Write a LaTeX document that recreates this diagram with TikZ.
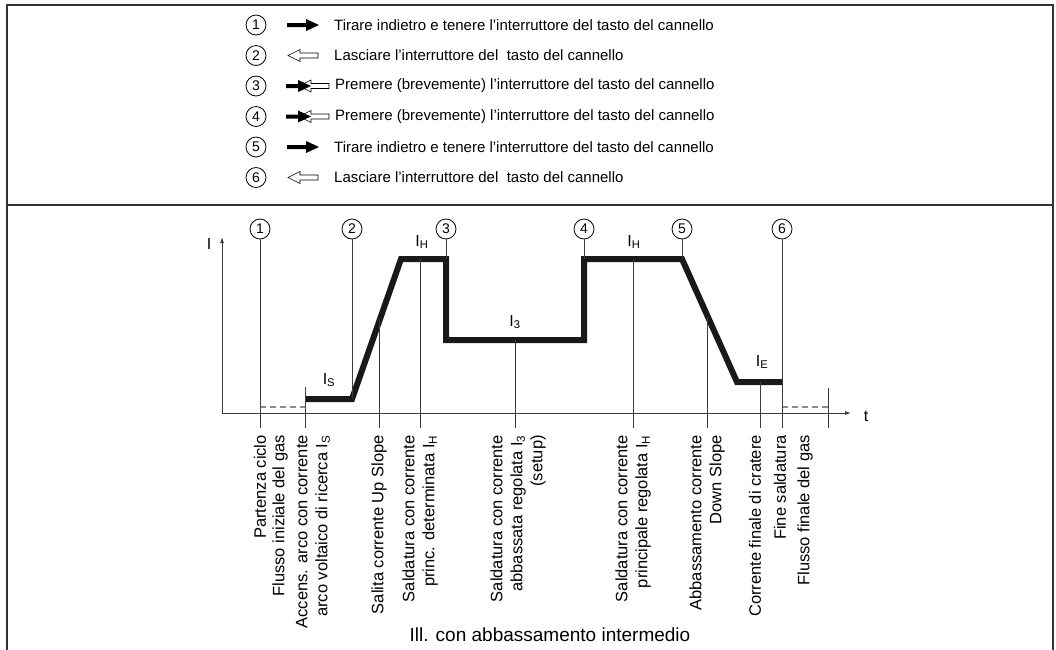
\documentclass[tikz,border=0pt]{standalone}
\usepackage{fontspec}
\setmainfont{Liberation Sans}
\usetikzlibrary{arrows.meta,calc}

\definecolor{framegray}{HTML}{333333}
\definecolor{thingray}{HTML}{3C3C3C}
\definecolor{dashgray}{HTML}{8C8C8C}

\tikzset{
    numc/.style={circle, draw, line width=0.8pt, minimum size=20pt, inner sep=0pt, font=\fontsize{14}{14}\selectfont},
    legtext/.style={anchor=west, inner sep=0pt, font=\fontsize{15}{18}\selectfont},
    lbl/.style={rotate=90, anchor=east, align=right, inner sep=0pt, font=\fontsize{16.5}{20}\selectfont},
    ilbl/.style={inner sep=0pt, font=\fontsize{16}{16}\selectfont},
    leader/.style={draw=thingray, line width=0.9pt, shorten >=7pt},
    curve/.style={line width=6pt, color=black!90},
    gasline/.style={dashgray, line width=1.6pt, dash pattern=on 6pt off 4pt},
}

% filled arrow = pull and hold
\NewDocumentCommand{\pusharrow}{m m O{19}}{
    \def\arrx{#1}
    \def\arry{#2}
    \def\arrs{#3}
    \fill[black] (\arrx,\arry-2) -- (\arrx+\arrs,\arry-2) -- (\arrx+\arrs,\arry-6) -- (\arrx+\arrs+13,\arry)
        -- (\arrx+\arrs,\arry+6) -- (\arrx+\arrs,\arry+2) -- (\arrx,\arry+2) -- cycle;
}

% hollow arrow = release
\NewDocumentCommand{\releasearrow}{m m}{
    \def\arrx{#1}
    \def\arry{#2}
    \filldraw[fill=white, draw=black, line width=0.6pt] (\arrx,\arry) -- (\arrx+12,\arry-6) -- (\arrx+12,\arry-2.5)
        -- (\arrx+30,\arry-2.5) -- (\arrx+30,\arry+2.5) -- (\arrx+12,\arry+2.5) -- (\arrx+12,\arry+6) -- cycle;
}

\begin{document}
\begin{tikzpicture}[x=1pt, y=-1pt]
    \useasboundingbox (0,0) rectangle (1056,649);

    % Frame
    \draw[framegray, line width=2.6pt] (7,660) -- (7,5) -- (1053,5) -- (1053,660);
    \draw[framegray, line width=2pt] (7,205) -- (1053,205);

    % Legend
    \node[numc] (n1) at (256,25) {1};
    \pusharrow{287}{25}
    \node[legtext] (t1) at (334,25) {Tirare indietro e tenere l'interruttore del tasto del cannello};

    \node[numc] (n2) at (256,55.5) {2};
    \releasearrow{288}{55.5}
    \node[legtext] (t2) at (334,55.5) {Lasciare l'interruttore del \ tasto del cannello};

    \node[numc] (n3) at (256,86) {3};
    \releasearrow{299}{86}
    \pusharrow{286}{86}[12]
    \node[legtext] (t3) at (335,86) {Premere (brevemente) l'interruttore del tasto del cannello};

    \node[numc] (n4) at (256,116.5) {4};
    \releasearrow{299}{116.5}
    \pusharrow{286}{116.5}[12]
    \node[legtext] (t4) at (335,116.5) {Premere (brevemente) l'interruttore del tasto del cannello};

    \node[numc] (n5) at (256,147) {5};
    \pusharrow{287}{147}
    \node[legtext] (t5) at (334,147) {Tirare indietro e tenere l'interruttore del tasto del cannello};

    \node[numc] (n6) at (256,177.5) {6};
    \releasearrow{288}{177.5}
    \node[legtext] (t6) at (334,177.5) {Lasciare l'interruttore del \ tasto del cannello};

    % Axes
    \coordinate (o) at (222,413);
    \coordinate (ytop) at (222,237);
    \coordinate (xend) at (851,413);
    \draw[thingray, line width=0.9pt, -{Latex[length=6pt,width=4pt]}] (o) -- (ytop);
    \draw[thingray, line width=0.9pt, -{Latex[length=6pt,width=4pt]}] (o) -- (xend);
    \node[ilbl] (ylab) at (209,244) {I};
    \node[ilbl] (xlab) at (866,416) {t};

    % Current curve
    \coordinate (s0) at (305,399);
    \coordinate (s1) at (352,399);
    \coordinate (s2) at (401,259);
    \coordinate (s3) at (446,259);
    \coordinate (s4) at (446,340);
    \coordinate (s5) at (584,340);
    \coordinate (s6) at (584,259);
    \coordinate (s7) at (682,259);
    \coordinate (s8) at (737,382);
    \coordinate (s9) at (782,382);
    \draw[curve] (s0) -- (s1) -- (s2) -- (s3) -- (s4) -- (s5) -- (s6) -- (s7) -- (s8) -- (s9);

    \node[ilbl] (is) at (329,380) {I\textsubscript{S}};
    \node[ilbl] (ih1) at (422,242) {I\textsubscript{H}};
    \node[ilbl] (i3) at (515,322) {I\textsubscript{3}};
    \node[ilbl] (ih2) at (634,242) {I\textsubscript{H}};
    \node[ilbl] (ie) at (762,362) {I\textsubscript{E}};

    % Numbered steps
    \node[numc] (c1) at (260,229) {1};
    \node[numc] (c2) at (352,229) {2};
    \node[numc] (c3) at (446,229) {3};
    \node[numc] (c4) at (584,229) {4};
    \node[numc] (c5) at (682,229) {5};
    \node[numc] (c6) at (782,229) {6};

    % Gas flow
    \coordinate (g1) at (260,407);
    \coordinate (g2) at (305,407);
    \coordinate (g3) at (782,407);
    \coordinate (g4) at (828,407);
    \draw[gasline] (g1) -- (g2);
    \draw[gasline] (g3) -- (g4);

    % Labels under the time axis
    \node[lbl] (lpart) at (260,435) {Partenza ciclo};
    \node[lbl] (lgas1) at (280,435) {Flusso iniziale del gas};
    \node[lbl] (laccens) at (313,435) {Accens. arco con corrente\\arco voltaico di ricerca I\textsubscript{S}};
    \node[lbl] (lup) at (379,435) {Salita corrente Up Slope};
    \node[lbl] (lsald1) at (420,435) {Saldatura con corrente\\princ. determinata I\textsubscript{H}};
    \node[lbl] (lsald3) at (518,435) {Saldatura con corrente\\abbassata regolata I\textsubscript{3}\\(setup)};
    \node[lbl] (lsald2) at (633,435) {Saldatura con corrente\\principale regolata I\textsubscript{H}};
    \node[lbl] (ldown) at (707,435) {Abbassamento corrente\\Down Slope};
    \node[lbl] (lcrat) at (755,435) {Corrente finale di cratere};
    \node[lbl] (lfine) at (780,435) {Fine saldatura};
    \node[lbl] (lgas2) at (805,435) {Flusso finale del gas};

    % Leader lines
    \coordinate (k1) at (305,387);
    \coordinate (k2) at (828,388);
    \coordinate (r1) at ($(s1)!0.57!(s2)$);
    \coordinate (r2) at ($(s7)!0.47!(s8)$);
    \coordinate (h1) at (420,259);
    \coordinate (q1) at (515,340);
    \coordinate (h2) at (633,259);
    \coordinate (e1) at (760,382);
    \draw[leader] (c1.south) -- (c1.south |- lpart.east);
    \draw[leader, shorten >=0pt] (c2.south) -- (s1);
    \draw[leader, shorten >=0pt] (c3.south) -- (s3);
    \draw[leader, shorten >=0pt] (c4.south) -- (s6);
    \draw[leader, shorten >=0pt] (c5.south) -- (s7);
    \draw[leader] (c6.south) -- (c6.south |- lfine.east);
    \draw[leader] (k1) -- (k1 |- laccens.east);
    \draw[leader] (r1) -- (r1 |- lup.east);
    \draw[leader] (h1) -- (h1 |- lsald1.east);
    \draw[leader] (q1) -- (q1 |- lsald3.east);
    \draw[leader] (h2) -- (h2 |- lsald2.east);
    \draw[leader] (r2) -- (r2 |- ldown.east);
    \draw[leader] (e1) -- (e1 |- lcrat.east);
    \draw[leader] (k2) -- (k2 |- lgas2.east);

    % Caption
    \node[font=\fontsize{19}{19}\selectfont, inner sep=0pt] (cap) at (550,635) {Ill. con abbassamento intermedio};
\end{tikzpicture}
\end{document}
